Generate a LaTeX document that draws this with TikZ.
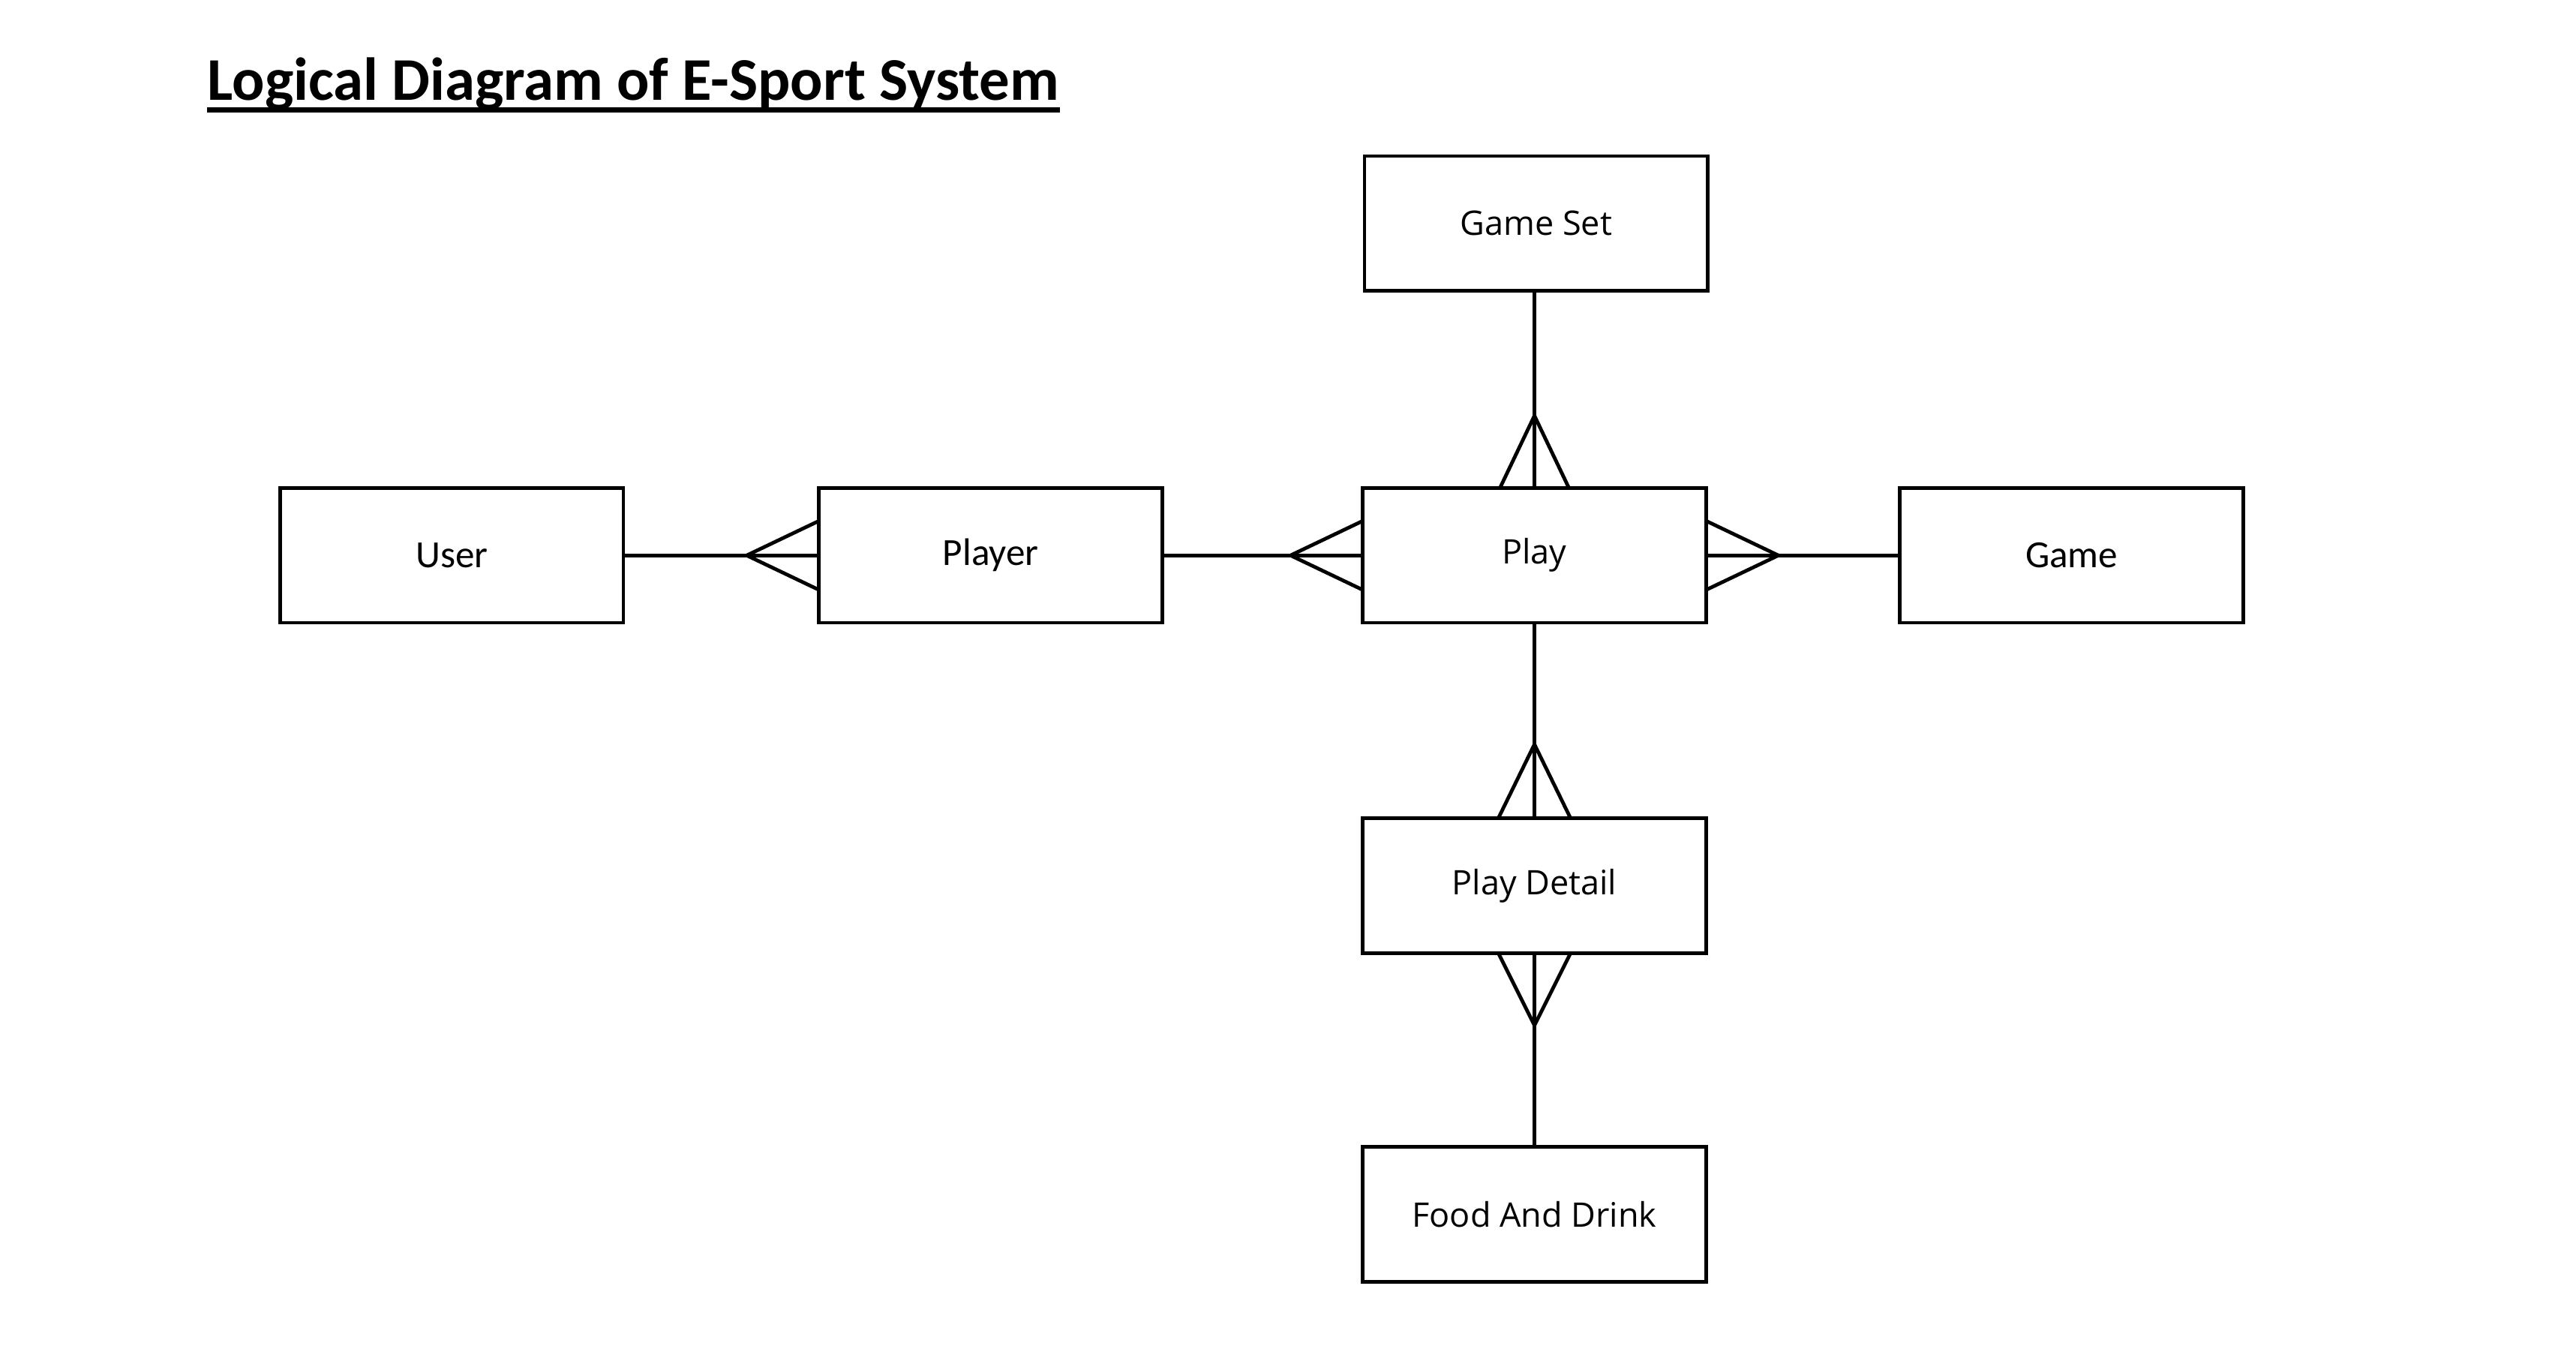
\documentclass[tikz,border=0pt]{standalone}
\usepackage{fontspec}
\setmainfont{Carlito}
\newfontfamily\segoe{Open Sans}
\usetikzlibrary{positioning,calc}

\begin{document}
\begin{tikzpicture}[x=0.02cm,y=-0.02cm,
  entity/.style={draw,line width=1.25pt,minimum width=4.18cm,minimum height=1.64cm,
    inner sep=0pt,outer sep=0pt,font=\fontsize{13.3}{16}\selectfont},
  entitywide/.style={entity,font=\segoe\fontsize{11.7}{14}\selectfont},
  link/.style={line width=1.25pt}]
  \useasboundingbox (0,0) rectangle (1568,819);
  % title
  \node[anchor=base west,inner sep=0pt,font=\bfseries\fontsize{21}{25}\selectfont] (title) at (126,61) {Logical Diagram of E-Sport System};
  \draw[line width=1.7pt] ($(title.base west)+(0,6)$) -- ($(title.base east)+(0,6)$);
  % entities
  \node[entitywide] (gameset) at (935,136) {Game Set};
  \node[entity] (user) at (275,338) {User};
  \node[entity] (player) at (603,338) {Player};
  \node[entitywide] (play) at (934,338) {Play};
  \node[entity] (game) at (1261,338) {Game};
  \node[entitywide] (detail) at (934,539) {Play Detail};
  \node[entitywide] (food) at (934,739) {Food And Drink};
  % relations
  \draw[link] (user) -- (player);
  \draw[link] (player) -- (play);
  \draw[link] (play) -- (game);
  \draw[link] (gameset.south -| play.north) -- (play);
  \draw[link] (play) -- (detail);
  \draw[link] (detail) -- (food);
  % crow's feet
  \foreach \a/\t/\p in {player.west/{-44,0}/{0,21}, play.west/{-44,0}/{0,21},
      play.east/{44,0}/{0,21}, play.north/{0,-44}/{21,0},
      detail.north/{0,-45}/{22,0}, detail.south/{0,44}/{22,0}}
    \draw[link] ($(\a)+(\p)$) -- ($(\a)+(\t)$) -- ($(\a)-(\p)$);
\end{tikzpicture}
\end{document}
